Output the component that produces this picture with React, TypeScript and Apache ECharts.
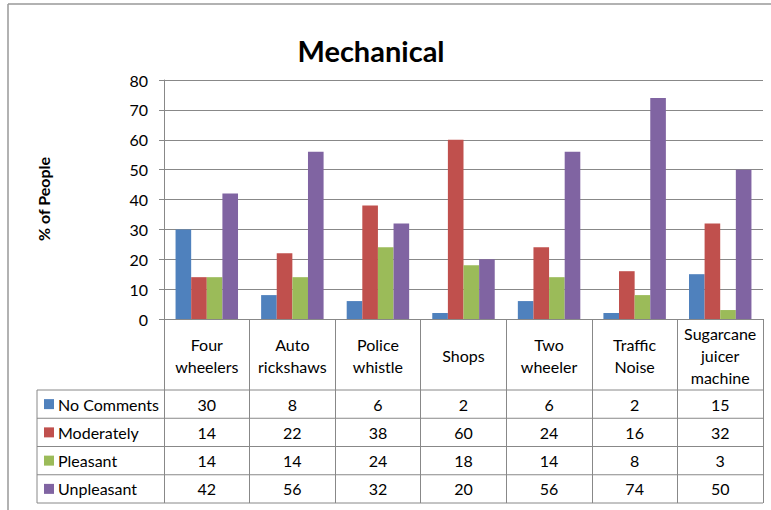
import React, { useEffect, useRef } from "react";
import * as echarts from "echarts";

// Noise sources surveyed, and the share of people giving each response
const categories = [
  "Four\nwheelers",
  "Auto\nrickshaws",
  "Police\nwhistle",
  "Shops",
  "Two\nwheeler",
  "Traffic\nNoise",
  "Sugarcane\njuicer\nmachine",
];
const seriesNames = ["No Comments", "Moderately", "Pleasant", "Unpleasant"];
const noComments = [30, 8, 6, 2, 6, 2, 15];
const moderately = [14, 22, 38, 60, 24, 16, 32];
const pleasant = [14, 14, 24, 18, 14, 8, 3];
const unpleasant = [42, 56, 32, 20, 56, 74, 50];
const yTicks = [0, 10, 20, 30, 40, 50, 60, 70, 80];

const colors = ["#4F81BD", "#C0504D", "#9BBB59", "#8064A2"];
const FONT = "Lato, 'Noto Sans', sans-serif";
const GRID = "#888888";

const W = 771;
const H = 510;
const PLOT_L = 164;
const PLOT_R = 763;
const PLOT_T = 80;
const PLOT_B = 319;
const HEADER_B = 390;
const TABLE_B = 503;
const LEGEND_L = 37;

export default function App() {
  const ref = useRef<HTMLDivElement>(null);

  useEffect(() => {
    if (!ref.current) return;
    const chart = echarts.init(ref.current, undefined, { renderer: "svg" });
    const values = [noComments, moderately, pleasant, unpleasant];
    const colW = (PLOT_R - PLOT_L) / categories.length;
    const rowH = (TABLE_B - HEADER_B) / seriesNames.length;

    const graphics: any[] = [];
    // outer chart border (top and left edges)
    graphics.push({
      type: "line",
      shape: { x1: 8, y1: 4, x2: W, y2: 4 },
      style: { stroke: "#999999", lineWidth: 1.5 },
      silent: true,
    });
    graphics.push({
      type: "line",
      shape: { x1: 8, y1: 4, x2: 8, y2: H },
      style: { stroke: "#999999", lineWidth: 1.5 },
      silent: true,
    });
    // data table grid
    for (let r = 0; r <= seriesNames.length; r++) {
      const y = HEADER_B + r * rowH;
      graphics.push({
        type: "line",
        shape: { x1: LEGEND_L, y1: y, x2: PLOT_R, y2: y },
        style: { stroke: GRID, lineWidth: 1 },
        silent: true,
      });
    }
    graphics.push({
      type: "line",
      shape: { x1: LEGEND_L, y1: HEADER_B, x2: LEGEND_L, y2: TABLE_B },
      style: { stroke: GRID, lineWidth: 1 },
      silent: true,
    });
    // legend keys, row names and values
    seriesNames.forEach((name, r) => {
      const cy = HEADER_B + (r + 0.5) * rowH;
      graphics.push({
        type: "rect",
        shape: { x: 44, y: cy - 5, width: 10, height: 10 },
        style: { fill: colors[r] },
        silent: true,
      });
      graphics.push({
        type: "text",
        x: 58,
        y: cy,
        style: {
          text: name,
          fill: "#000",
          font: `16px ${FONT}`,
          textAlign: "left",
          textVerticalAlign: "middle",
        },
        silent: true,
      });
      values[r].forEach((v, c) => {
        graphics.push({
          type: "text",
          x: PLOT_L + (c + 0.5) * colW,
          y: cy,
          style: {
            text: String(v),
            fill: "#000",
            font: `16px ${FONT}`,
            textAlign: "center",
            textVerticalAlign: "middle",
          },
          silent: true,
        });
      });
    });
    // rotated axis title
    graphics.push({
      type: "text",
      x: 43,
      y: 199,
      rotation: Math.PI / 2,
      style: {
        text: "% of People",
        fill: "#000",
        font: `bold 16px ${FONT}`,
        textAlign: "center",
        textVerticalAlign: "middle",
      },
      silent: true,
    });

    chart.setOption({
      animation: false,
      backgroundColor: "#ffffff",
      title: {
        text: "Mechanical",
        left: 366,
        top: 31,
        textAlign: "center",
        textStyle: {
          fontFamily: FONT,
          fontWeight: "bold",
          fontSize: 29,
          color: "#000",
        },
      },
      grid: {
        left: PLOT_L,
        right: W - PLOT_R,
        top: PLOT_T,
        bottom: H - PLOT_B,
        containLabel: false,
      },
      xAxis: {
        type: "category",
        data: categories,
        axisLine: { show: true, lineStyle: { color: GRID, width: 1 } },
        axisTick: {
          show: true,
          interval: 0,
          length: TABLE_B - PLOT_B,
          lineStyle: { color: GRID, width: 1 },
        },
        axisLabel: {
          interval: 0,
          margin: 36,
          verticalAlign: "middle",
          fontFamily: FONT,
          fontSize: 16,
          lineHeight: 22,
          color: "#000",
        },
      },
      yAxis: {
        type: "value",
        min: yTicks[0],
        max: yTicks[yTicks.length - 1],
        interval: 10,
        axisLine: { show: true, lineStyle: { color: GRID, width: 1 } },
        axisTick: { show: true, length: 5, lineStyle: { color: GRID } },
        splitLine: { show: true, lineStyle: { color: GRID, width: 1 } },
        axisLabel: {
          margin: 16,
          fontFamily: FONT,
          fontSize: 16,
          color: "#000",
        },
      },
      series: seriesNames.map((name, i) => ({
        name,
        type: "bar",
        data: values[i],
        barGap: "0%",
        barCategoryGap: "27%",
        itemStyle: { color: colors[i] },
      })),
      graphic: graphics,
    });

    return () => chart.dispose();
  }, []);

  return (
    <div
      ref={ref}
      style={{ position: "absolute", left: 0, top: 0, width: W, height: H }}
    />
  );
}
